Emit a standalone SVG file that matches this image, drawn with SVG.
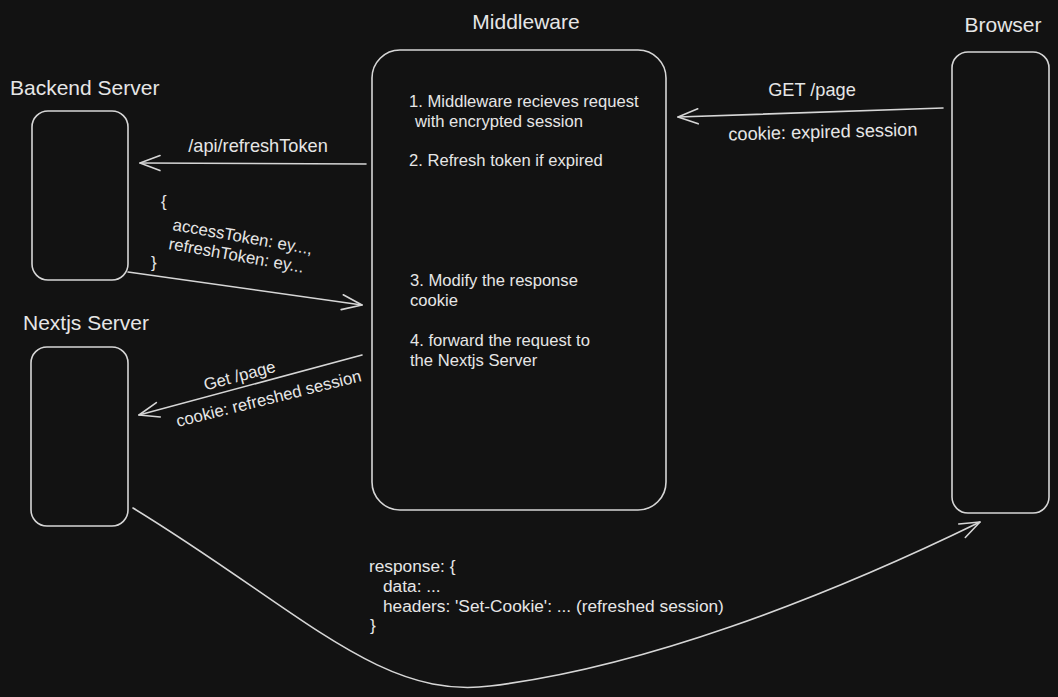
<svg xmlns="http://www.w3.org/2000/svg" width="1058" height="697" viewBox="0 0 1058 697">
<defs>
<style>
.bg{fill:#121212}
.box{fill:none;stroke:#d6d6d6;stroke-width:1.6}
.edge{fill:none;stroke:#d6d6d6;stroke-width:1.6;stroke-linecap:round}
text{fill:#e6e6e6;font-family:"Liberation Sans",Arial,sans-serif}
.title{font-size:21px}
.t{font-size:16.6px}
.l{font-size:18.2px}
.r{font-size:17.3px}
.s{font-size:16.8px}
</style>
<marker id="arr" markerUnits="userSpaceOnUse" markerWidth="30" markerHeight="30" viewBox="-25 -12 30 24" refX="0" refY="0" orient="auto">
<path d="M-20,-7.5 L0,0 L-20,7.5" fill="none" stroke="#d6d6d6" stroke-width="1.6" stroke-linecap="round" stroke-linejoin="round"/>
</marker>
</defs>
<rect class="bg" x="0" y="0" width="1058" height="697"/>

<g id="backend-server">
<text class="title" x="10" y="95">Backend Server</text>
<rect class="box" x="32" y="111" width="96" height="169" rx="16"/>
</g>

<g id="nextjs-server">
<text class="title" x="23" y="330">Nextjs Server</text>
<rect class="box" x="31" y="347" width="97" height="179" rx="16"/>
</g>

<g id="middleware">
<text class="title" x="526" y="29" text-anchor="middle">Middleware</text>
<rect class="box" x="372" y="50" width="294" height="460" rx="28"/>
<text class="t" x="409" y="107">1. Middleware recieves request</text>
<text class="t" x="415" y="127">with encrypted session</text>
<text class="t" x="409" y="166">2. Refresh token if expired</text>
<text class="t" x="410" y="286">3. Modify the response</text>
<text class="t" x="410" y="306">cookie</text>
<text class="t" x="410" y="346">4. forward the request to</text>
<text class="t" x="410" y="366">the Nextjs Server</text>
</g>

<g id="browser">
<text class="title" x="1003" y="32" text-anchor="middle">Browser</text>
<rect class="box" x="952" y="52" width="97" height="461" rx="16"/>
</g>

<g id="connectors">
<path class="edge" d="M943,108 L678,117" marker-end="url(#arr)"/>
<text class="l" x="812" y="96" text-anchor="middle">GET /page</text>
<text class="l" x="823" y="138" text-anchor="middle" transform="rotate(-1.5 823 138)">cookie: expired session</text>

<path class="edge" d="M366,164 L140,163" marker-end="url(#arr)"/>
<text class="l" x="258" y="152" text-anchor="middle">/api/refreshToken</text>

<path class="edge" d="M128,272 L362,305" marker-end="url(#arr)"/>
<text class="s" x="161" y="207">{</text>
<text class="s" x="172" y="230" transform="rotate(10 172 230)">accessToken: ey...,</text>
<text class="s" x="168" y="249" transform="rotate(10 168 249)">refreshToken: ey...</text>
<text class="s" x="151" y="268">}</text>

<path class="edge" d="M362,355 L139,415" marker-end="url(#arr)"/>
<text class="s" x="241" y="381" text-anchor="middle" transform="rotate(-15 241 381)">Get /page</text>
<text class="s" x="270" y="404" text-anchor="middle" transform="rotate(-14 270 404)">cookie: refreshed session</text>

<path class="edge" d="M133,508 C300,610 380,700 490,686 C640,668 820,600 980,522" marker-end="url(#arr)"/>
<text class="r" x="369" y="572">response: {</text>
<text class="r" x="383" y="592">data: ...</text>
<text class="r" x="383" y="612">headers: 'Set-Cookie': ... (refreshed session)</text>
<text class="r" x="370" y="631">}</text>
</g>
</svg>
